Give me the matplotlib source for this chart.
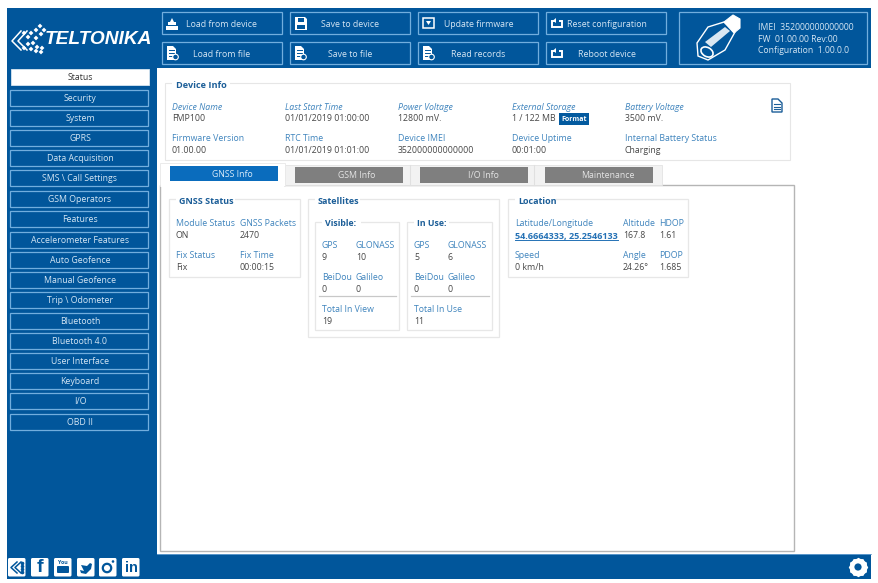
import matplotlib
matplotlib.use('Agg')
import matplotlib.pyplot as plt
from matplotlib.patches import Rectangle, FancyBboxPatch, Polygon, Circle, Ellipse
from matplotlib.lines import Line2D

plt.rcParams['font.family'] = ['Open Sans', 'DejaVu Sans']

BLUE = '#01569b'; EDGE = '#72aede'; LBL = '#3f84bd'; TTL = '#1c5e98'; TXT = '#474747'; WHITE_T = '#d5e6f4'

top_row1 = ['Load from device', 'Save to device', 'Update firmware', 'Reset configuration']
top_row2 = ['Load from file', 'Save to file', 'Read records', 'Reboot device']
side_labels = ['Status', 'Security', 'System', 'GPRS', 'Data Acquisition', 'SMS \\ Call Settings',
               'GSM Operators', 'Features', 'Accelerometer Features', 'Auto Geofence', 'Manual Geofence',
               'Trip \\ Odometer', 'Bluetooth', 'Bluetooth 4.0', 'User Interface', 'Keyboard', 'I/O', 'OBD II']
side_y = [77, 98, 118, 138, 158, 178, 199, 219, 240, 260, 280, 300, 321, 341, 361, 381, 401, 422]
tabs = ['GNSS Info', 'GSM Info', 'I/O Info', 'Maintenance']
device_labels = ['Device Name', 'Last Start Time', 'Power Voltage', 'External Storage', 'Battery Voltage']
device_values = ['FMP100', '01/01/2019 01:00:00', '12800 mV.', '1 / 122 MB', '3500 mV.']
device_labels2 = ['Firmware Version', 'RTC Time', 'Device IMEI', 'Device Uptime', 'Internal Battery Status']
device_values2 = ['01.00.00', '01/01/2019 01:01:00', '352000000000000', '00:01:00', 'Charging']
device_lines = ['IMEI  352000000000000', 'FW  01.00.00 Rev:00', 'Configuration  1.00.0.0']

fig = plt.figure(figsize=(8.79, 5.83), dpi=100, facecolor='white')
ax = fig.add_axes([0, 0, 1, 1])
ax.set_xlim(0, 879); ax.set_ylim(583, 0); ax.axis('off')


def rect(x0, y0, x1, y1, fc='none', ec='none', lw=1.0, z=1):
    ax.add_patch(Rectangle((x0, y0), x1 - x0, y1 - y0, fc=fc, ec=ec, lw=lw, zorder=z))


def t(x, y, s, color=TXT, size=6.3, ha='left', z=6, **kw):
    ax.text(x, y + 1, s, color=color, fontsize=size, ha=ha, va='center', zorder=z, **kw)


def poly(pts, fc='white', ec='none', lw=0.8, z=6):
    ax.add_patch(Polygon(pts, closed=True, fc=fc, ec=ec, lw=lw, zorder=z))


# blue frame
rect(7, 8, 871, 68, fc=BLUE)
rect(7, 68, 157, 579, fc=BLUE)
rect(7, 554, 871, 579, fc=BLUE)
ax.add_line(Line2D([157, 871], [554, 554], color='#6ba3d4', lw=0.6, zorder=2))

# logo
t(45, 38, 'TELTONIKA', color='white', size=13.8, weight='bold', style='italic', family='Liberation Sans')
for cx, cy in [(40, 26), (44, 30), (36, 30), (31, 33), (41, 34), (24, 33), (36, 38), (28, 37), (33, 43),
               (28, 44), (24, 48), (37, 47), (31, 49), (42, 48), (36, 51), (41, 52)]:
    poly([(cx - 2.4, cy), (cx, cy - 2.4), (cx + 2.4, cy), (cx, cy + 2.4)])
ax.add_line(Line2D([21, 12, 21], [31, 41, 50], color='white', lw=1.1, zorder=6))
ax.add_line(Line2D([27, 18, 27], [31, 41, 50], color='white', lw=1.1, zorder=6))

# top buttons
btn_x = [(162, 282), (290, 410), (418, 538), (546, 666)]
text_x1 = [222, 350, 479, 607]
text_x2 = [222, 350, 478, 607]
for i, (x0, x1) in enumerate(btn_x):
    rect(x0, 12, x1, 34, ec=EDGE, lw=0.9, z=3)
    rect(x0, 42, x1, 64, ec=EDGE, lw=0.9, z=3)
    t(text_x1[i], 23.5, top_row1[i], color=WHITE_T, ha='center')
    t(text_x2[i], 53.5, top_row2[i], color=WHITE_T, ha='center')


def file_icon(x, y):
    poly([(x, y), (x + 6, y), (x + 9, y + 3), (x + 9, y + 14), (x, y + 14)])
    for d in (4, 7, 10):
        ax.add_line(Line2D([x + 2, x + 7], [y + d, y + d], color=BLUE, lw=0.7, zorder=7))
    ax.add_patch(Circle((x + 8.5, y + 11), 2.8, fc=BLUE, ec='white', lw=0.8, zorder=7))


# row-1 icons
rect(166, 26, 178, 30, fc='white', z=6)
poly([(168, 25), (168, 22), (170, 22), (172, 18), (174, 22), (176, 22), (176, 25)])
poly([(295, 17), (305, 17), (307, 19), (307, 30), (295, 30)])
rect(298, 18, 304, 22, fc=BLUE, z=7); rect(297, 25, 305, 29, fc=BLUE, z=7)
rect(423, 18, 434, 28, ec='white', lw=1.1, z=6)
poly([(426, 21), (431, 21), (428.5, 25)])
for y in (24, 54):
    rect(552, y - 3, 562, y + 3, ec='white', lw=1.4, z=6)
    rect(555, y - 5, 559, y - 2, fc=BLUE, z=7)
    poly([(556, y - 6), (556, y - 1), (553, y - 3.5)], z=8)
file_icon(167, 46); file_icon(295, 46); file_icon(423, 46)

# device box
rect(679, 12, 867, 64, ec=EDGE, lw=0.9, z=3)
poly([(697, 43), (708, 27), (724, 22), (735, 32), (725, 50), (708, 60), (698, 56)], fc=BLUE, ec='white', lw=1.0)
poly([(724, 22), (733, 15), (740, 19), (740, 28), (734, 33)], fc='white', ec='white')
ax.add_patch(Ellipse((707, 52), 13, 9, angle=30, fc=BLUE, ec='white', lw=1.2, zorder=7))
poly([(705, 42), (725, 27), (730, 31), (711, 47)], fc='#d9e7f2', z=7)
for y, s in zip([26.5, 38.5, 49.5], device_lines):
    t(758, y, s, color=WHITE_T, size=6.2)

# sidebar
for i, (lab, y) in enumerate(zip(side_labels, side_y)):
    if i == 0:
        rect(11, y - 8, 149, y + 8, fc='white', ec='#d8e6f2', lw=0.6, z=3)
        t(80, y - 0.3, lab, color='#333333', ha='center')
    else:
        rect(10.5, y - 8, 148.5, y + 8, ec=EDGE, lw=0.9, z=3)
        t(80, y - 0.3, lab, color=WHITE_T, ha='center')

# device info card
rect(165, 83, 790, 160, fc='white', ec='#e6e6e6', lw=0.8, z=2)
rect(172, 78, 230, 90, fc='white', z=3)
t(176, 84, 'Device Info', color=TTL, size=6.6, weight='bold')
col_x = [172, 285, 398, 512, 625]
for x, a, b, c, d in zip(col_x, device_labels, device_values, device_labels2, device_values2):
    t(x, 106, a, color=LBL, style='italic', size=6.3)
    t(x, 117.5, b)
    t(x, 137.5, c, color=LBL)
    t(x, 149.5, d)
rect(559, 113, 589, 125, fc='#035a9f', z=4)
t(574, 118.5, 'Format', color='white', size=5, weight='bold', ha='center')
# note icon
poly([(772, 99), (778, 99), (782, 103), (782, 112), (772, 112)], fc='white', ec=TTL, lw=1.0)
for y in (104, 106.5, 109):
    ax.add_line(Line2D([774, 780], [y, y], color=TTL, lw=0.8, zorder=7))

# tabs
rect(160, 185, 794, 551, fc='white', ec='#b5b5b5', lw=1.0, z=2)
rect(285, 165, 662, 185, fc='#f2f2f2', ec='#e3e3e3', lw=0.6, z=3)
rect(160, 163, 285, 186, fc='white', ec='#e8e8e8', lw=0.6, z=4)
rect(161, 184, 284, 187, fc='white', z=5)
rect(170, 166, 278, 181, fc='#0a6cbd', z=6)
t(232, 173.5, tabs[0], color='#d9ebf9', ha='center', z=7)
tab_x = [(295, 403), (420, 528), (545, 653)]
tab_tx = [357, 483, 608]
for (x0, x1), tx, s in zip(tab_x, tab_tx, tabs[1:]):
    rect(x0, 167, x1, 183, fc='#7f7f7f', z=6)
    t(tx, 174.5, s, color='#e4e4e4', ha='center', z=7)
for x in (410, 534):
    ax.add_line(Line2D([x, x], [165, 185], color='#e0e0e0', lw=0.8, zorder=4))


def card(x0, y0, x1, y1, title, tx, tw, bold_size=6.5):
    rect(x0, y0, x1, y1, fc='white', ec='#e7e7e7', lw=0.9, z=3)
    rect(tx - 3, y0 - 4, tx + tw, y0 + 4, fc='white', z=4)
    t(tx, y0 + 1, title, color=TTL, size=bold_size, weight='bold')


card(169, 199, 300, 277, 'GNSS Status', 179, 56)
t(176, 223, 'Module Status', color=LBL); t(176, 234.5, 'ON')
t(240, 223, 'GNSS Packets', color=LBL); t(240, 234.5, '2470')
t(176, 254, 'Fix Status', color=LBL); t(176, 266, 'Fix')
t(240, 254, 'Fix Time', color=LBL); t(240, 266, '00:00:15')

card(308, 199, 499, 337, 'Satellites', 318, 42)
sat_x = [(315, 399), (407, 492)]
sat_titles = [('Visible:', 325, 36), ('In Use:', 417, 32)]
sat_vals = [['9', '10', '0', '0', 'Total In View', '19'], ['5', '6', '0', '0', 'Total In Use', '11']]
for (x0, x1), (st, tx, tw), v in zip(sat_x, sat_titles, sat_vals):
    rect(x0, 222, x1, 330, fc='white', ec='#e7e7e7', lw=0.9, z=4)
    rect(tx - 3, 218, tx + tw, 226, fc='white', z=5)
    t(tx, 223, st, color=TTL, size=6.3, weight='bold')
    a = x0 + 7; b = a + 34
    t(a, 245, 'GPS', color=LBL); t(a, 257, v[0])
    t(b, 245, 'GLONASS', color=LBL); t(b, 257, v[1])
    t(a, 277, 'BeiDou', color=LBL); t(a, 288, v[2])
    t(b, 277, 'Galileo', color=LBL); t(b, 288, v[3])
    ax.add_line(Line2D([x0 + 4, x1 - 3], [296, 296], color='#c8c8c8', lw=0.9, zorder=6))
    t(a, 308, v[4], color=LBL); t(a, 320, v[5])

card(508, 199, 688, 277, 'Location', 518, 38)
t(515, 223, 'Latitude/Longitude', color=LBL)
t(515, 235, '54.6664333, 25.2546133', color='#2471b5', weight='bold', size=6.5)
ax.add_line(Line2D([515, 618], [240, 240], color='#2471b5', lw=0.7, zorder=6))
t(623, 223, 'Altitude', color=LBL); t(623, 235, '167.8')
t(659, 223, 'HDOP', color=LBL); t(659, 235, '1.61')
t(515, 254, 'Speed', color=LBL); t(515, 266, '0 km/h')
t(623, 254, 'Angle', color=LBL); t(623, 266, '24.26°')
t(659, 254, 'PDOP', color=LBL); t(659, 266, '1.685')

# footer icons
soc_x = [8, 31, 54, 77, 99, 122]
for x in soc_x:
    ax.add_patch(FancyBboxPatch((x + 1.5, 559.5), 14.5, 15.5, boxstyle='round,pad=1.5', fc='white', ec='none', zorder=5))
ax.add_line(Line2D([17, 11, 17], [562, 567.5, 573], color=BLUE, lw=1.1, zorder=7))
ax.add_line(Line2D([21, 15, 21], [562, 567.5, 573], color=BLUE, lw=1.1, zorder=7))
ax.plot([22, 22, 22, 22], [563, 566, 569, 572], ls='none', marker='o', ms=1.6, color=BLUE, zorder=7)
t(40, 566, 'f', color=BLUE, size=14, weight='bold', ha='center', z=7, family='Liberation Sans')
t(63, 562, 'You', color=BLUE, size=3.8, weight='bold', ha='center', z=7)
ax.add_patch(FancyBboxPatch((58, 567), 10, 5, boxstyle='round,pad=1', fc=BLUE, ec='none', zorder=7))
poly([(80, 570), (84, 571), (81, 565), (87, 566), (90, 563), (92, 564), (91, 569), (86, 574), (81, 573)], fc=BLUE, z=7)
ax.add_patch(Circle((107, 568), 4.2, fc='white', ec=BLUE, lw=1.6, zorder=7))
ax.add_patch(Circle((113, 561.5), 1.3, fc=BLUE, ec='none', zorder=7))
t(131, 567, 'in', color=BLUE, size=10.5, weight='bold', ha='center', z=7, family='Liberation Sans')

# gear
ax.plot([858], [567], marker=(6, 0, 0), ms=14, color='white', mec='none', zorder=6)
ax.plot([858], [567], marker=(6, 0, 30), ms=14, color='white', mec='none', zorder=6)
ax.add_patch(Circle((858, 567), 3.6, fc=BLUE, ec='none', zorder=7))

fig.savefig('out.png', dpi=100)
